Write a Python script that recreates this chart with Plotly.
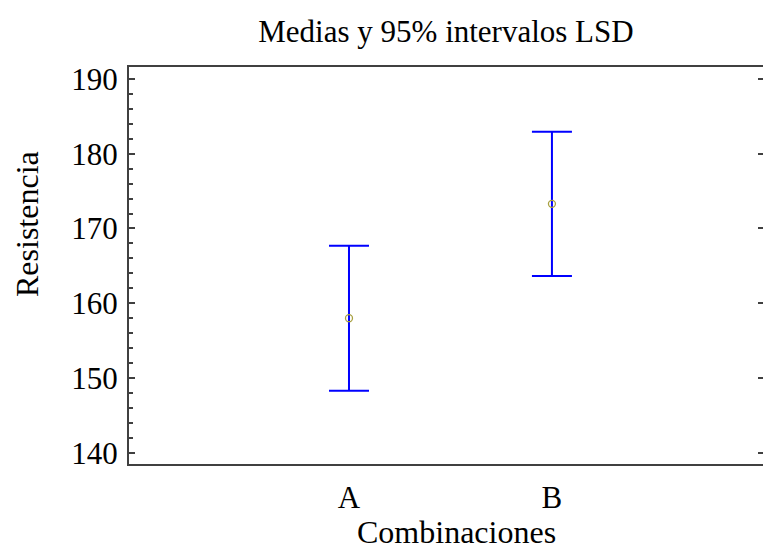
import plotly.graph_objects as go

# Group means with 95% LSD half-widths
categories = ["A", "B"]
means = [158.0, 173.3]
half_widths = [9.7, 9.65]
positions = [0, 1]

y_ticks = [140, 150, 160, 170, 180, 190]

serif = "Liberation Serif, Times New Roman, serif"
axis_color = "#404040"

fig = go.Figure()

fig.add_trace(go.Scatter(
    x=positions,
    y=means,
    mode="markers",
    marker=dict(symbol="circle-open", size=7, color="#a8a040", line=dict(width=1.3)),
    error_y=dict(type="data", array=half_widths, visible=True,
                 color="#0000ff", thickness=2, width=20),
    showlegend=False,
))

# right-hand ticks only (no line), shared scale with the left axis
fig.add_trace(go.Scatter(x=[None], y=[None], yaxis="y2", showlegend=False))

fig.update_layout(
    width=763, height=549,
    margin=dict(l=129, r=0, t=67, b=85),
    paper_bgcolor="white", plot_bgcolor="white",
    font=dict(family=serif, color="black"),
    title=dict(text="Medias y 95% intervalos LSD", x=0.5, xref="paper",
               y=1 - 31 / 549, yref="container", yanchor="middle",
               font=dict(size=31, family=serif, color="black")),
    xaxis=dict(
        range=[-1.084, 2.04],
        tickvals=positions, ticktext=categories,
        ticks="", showgrid=False, zeroline=False,
        showline=True, linecolor=axis_color, linewidth=2, mirror=True,
        tickfont=dict(size=31, family=serif, color="black"),
        ticklabelstandoff=5,
    ),
    yaxis=dict(
        range=[138.5, 191.6],
        tickvals=y_ticks,
        ticks="inside", ticklen=6, tickwidth=2, tickcolor=axis_color,
        minor=dict(dtick=2, ticks="inside", ticklen=4, tickwidth=2, tickcolor=axis_color),
        showgrid=False, zeroline=False,
        showline=True, linecolor=axis_color, linewidth=2,
        tickfont=dict(size=31, family=serif, color="black"),
        ticklabelstandoff=3,
    ),
    yaxis2=dict(
        overlaying="y", side="right", matches="y",
        tickvals=y_ticks, showticklabels=False,
        ticks="inside", ticklen=5, tickwidth=2, tickcolor=axis_color,
        showline=False, showgrid=False, zeroline=False,
    ),
    annotations=[
        dict(text="Combinaciones", xref="paper", yref="paper",
             x=(456 - 129) / 634, y=-(532 - 464) / 397,
             xanchor="center", yanchor="middle", showarrow=False,
             font=dict(size=32, family=serif, color="black")),
        dict(text="Resistencia", xref="paper", yref="paper",
             x=-(129 - 27) / 634, y=(464 - 224) / 397,
             xanchor="center", yanchor="middle", textangle=-90, showarrow=False,
             font=dict(size=32, family=serif, color="black")),
    ],
)

fig.write_html("out.html")
